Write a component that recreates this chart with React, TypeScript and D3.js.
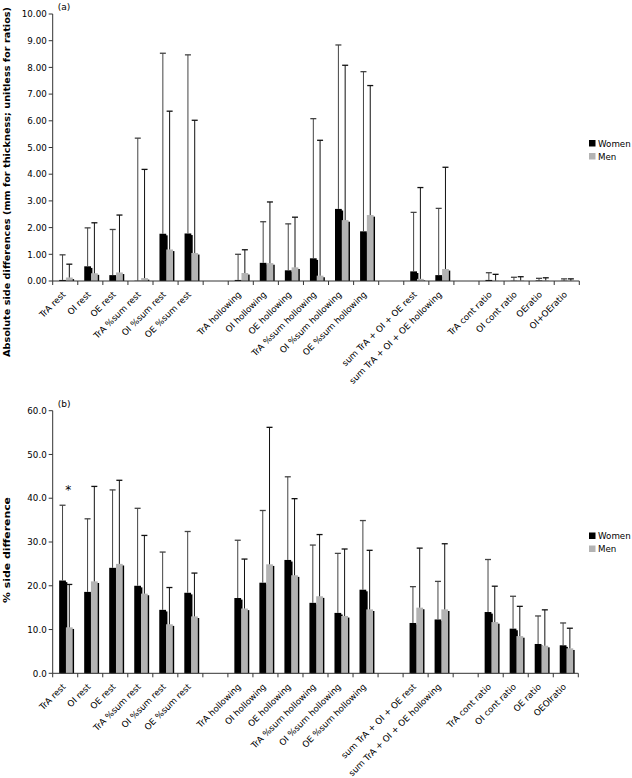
import React from 'react';
import * as d3 from 'd3';

const topCategories = [
  'TrA rest', 'OI rest', 'OE rest', 'TrA %sum rest', 'OI %sum rest', 'OE %sum rest', '',
  'TrA hollowing', 'OI hollowing', 'OE hollowing', 'TrA %sum hollowing', 'OI %sum hollowing', 'OE %sum hollowing', '',
  'sum TrA + OI + OE rest', 'sum TrA + OI + OE hollowing', '',
  'TrA cont ratio', 'OI cont ratio', 'OEratio', 'OI+OEratio',
];
const bottomCategories = [
  'TrA rest', 'OI rest', 'OE rest', 'TrA %sum rest', 'OI %sum rest', 'OE %sum rest', '',
  'TrA hollowing', 'OI hollowing', 'OE hollowing', 'TrA %sum hollowing', 'OI %sum hollowing', 'OE %sum hollowing', '',
  'sum TrA + OI + OE rest', 'sum TrA + OI + OE hollowing', '',
  'TrA cont ratio', 'OI cont ratio', 'OE ratio', 'OEOIratio',
];

const series = ['Women', 'Men'];

// (a) absolute side differences: mean and mean+SD
const topWomen = [0.04, 0.55, 0.22, 0.01, 1.77, 1.78, null, 0.04, 0.68, 0.40, 0.85, 2.70, 1.86, null, 0.36, 0.22, null, 0.04, 0.01, 0.02, 0.01];
const topWomenUpper = [0.98, 1.99, 1.93, 5.35, 8.53, 8.47, null, 1.00, 2.22, 2.14, 6.08, 8.84, 7.84, null, 2.57, 2.72, null, 0.31, 0.14, 0.10, 0.08];
const topMen = [0.13, 0.29, 0.32, 0.11, 1.18, 1.05, null, 0.30, 0.67, 0.51, 0.20, 2.28, 2.47, null, 0.08, 0.45, null, 0.01, 0.02, 0.02, 0.01];
const topMenUpper = [0.63, 2.18, 2.47, 4.18, 6.36, 6.02, null, 1.17, 2.96, 2.39, 5.27, 8.08, 7.32, null, 3.50, 4.26, null, 0.25, 0.16, 0.12, 0.08];
const topTicks = [0, 1, 2, 3, 4, 5, 6, 7, 8, 9, 10];

// (b) % side difference: mean and mean+SD
const botWomen = [21.2, 18.6, 24.1, 20.0, 14.5, 18.4, null, 17.2, 20.7, 25.9, 16.1, 13.8, 19.1, null, 11.5, 12.3, null, 14.0, 10.2, 6.7, 6.4];
const botWomenUpper = [38.4, 35.3, 41.9, 37.7, 27.7, 32.4, null, 30.4, 37.2, 44.9, 29.3, 27.4, 34.9, null, 19.8, 21.0, null, 26.0, 17.6, 13.1, 11.5];
const botMen = [10.5, 21.0, 25.0, 18.2, 11.2, 13.0, null, 14.8, 24.9, 22.4, 17.6, 13.1, 14.6, null, 15.0, 14.6, null, 11.7, 8.5, 6.3, 5.7];
const botMenUpper = [20.3, 42.7, 44.1, 31.5, 19.6, 22.9, null, 26.1, 56.2, 39.9, 31.7, 28.4, 28.1, null, 28.6, 29.6, null, 19.9, 15.3, 14.5, 10.3];
const botTicks = [0, 10, 20, 30, 40, 50, 60];

const FONT = '"DejaVu Sans", Verdana, sans-serif';
const COLORS = ['#000000', '#b3b3b3'];
const ERR_COLORS = ['#444444', '#111111'];

type PanelProps = {
  cats: string[];
  women: (number | null)[];
  womenUpper: (number | null)[];
  men: (number | null)[];
  menUpper: (number | null)[];
  ticks: number[];
  fmt: (n: number) => string;
  top: number;
  bottom: number;
  left: number;
  right: number;
  tag: string;
  yLabel: string;
  yLabelCenter: number;
  yLabelLen: number;
  legendY: number;
  star?: boolean;
};

function Panel(p: PanelProps) {
  const idx = d3.range(p.cats.length);
  const x = d3.scaleBand<number>().domain(idx).range([p.left, p.right]).padding(0);
  const yMax = p.ticks[p.ticks.length - 1];
  const y = d3.scaleLinear().domain([0, yMax]).range([p.bottom, p.top]);
  const bw = x.bandwidth() * 0.27;
  const vals = [p.women, p.men];
  const ups = [p.womenUpper, p.menUpper];
  const barX = (i: number, s: number) => {
    const cx = x(i)! + x.bandwidth() / 2;
    return s === 0 ? cx - bw + 0.7 : cx + 0.7;
  };

  return (
    <g>
      {/* bars with shadow */}
      {idx.map((i) =>
        vals.map((arr, s) => {
          const v = arr[i];
          if (v == null) return null;
          const xx = barX(i, s);
          const yt = y(v);
          const h = p.bottom - yt;
          return (
            <g key={`b${i}-${s}`}>
              <rect x={xx + 1.4} y={yt + 1.6} width={bw} height={Math.max(0, h - 1.6)} fill="#000" />
              <rect x={xx} y={yt} width={bw} height={h} fill={COLORS[s]} />
            </g>
          );
        })
      )}
      {/* error bars (upper only) */}
      {idx.map((i) =>
        vals.map((arr, s) => {
          const v = arr[i];
          const u = ups[s][i];
          if (v == null || u == null) return null;
          const xx = barX(i, s) + bw / 2;
          return (
            <g key={`e${i}-${s}`} stroke={ERR_COLORS[s]} strokeWidth={1}>
              <line x1={xx} x2={xx} y1={y(v)} y2={y(u)} />
              <line x1={xx - 3} x2={xx + 3} y1={y(u)} y2={y(u)} strokeWidth={1.3} />
            </g>
          );
        })
      )}
      {/* axes */}
      <line x1={p.left} x2={p.left} y1={p.top} y2={p.bottom} stroke="#333" />
      <line x1={p.left} x2={p.right} y1={p.bottom} y2={p.bottom} stroke="#333" />
      {p.ticks.map((t) => (
        <g key={`yt${t}`}>
          <line x1={p.left - 4} x2={p.left} y1={y(t)} y2={y(t)} stroke="#333" />
          <text x={p.left - 6} y={y(t) + 3.2} textAnchor="end" fontSize={8.7} fontFamily={FONT} fill="#000">
            {p.fmt(t)}
          </text>
        </g>
      ))}
      {d3.range(p.cats.length + 1).map((i) => {
        const xx = i < p.cats.length ? x(i)! : p.right;
        return <line key={`xt${i}`} x1={xx} x2={xx} y1={p.bottom} y2={p.bottom + 4} stroke="#333" />;
      })}
      {idx.map((i) => {
        const c = p.cats[i];
        if (!c) return null;
        const cx = x(i)! + x.bandwidth() / 2;
        const ax = cx + 1;
        const ay = p.bottom + 14;
        return (
          <text key={`xl${i}`} x={ax} y={ay} transform={`rotate(-45 ${ax} ${ay})`} textAnchor="end"
            fontSize={8.7} fontFamily={FONT} fill="#000">
            {c}
          </text>
        );
      })}
      {/* panel tag */}
      <text x={p.left + 5} y={p.top - 4} fontSize={9} fontFamily={FONT} fill="#000">{p.tag}</text>
      {p.star && (
        <text x={x(0)! + x.bandwidth() / 2 + 3} y={y(p.womenUpper[0]!) - 11} textAnchor="middle"
          fontSize={12} fontFamily={FONT} fill="#000">*</text>
      )}
      {/* y label */}
      <text
        x={0}
        y={0}
        transform={`translate(10 ${p.yLabelCenter}) rotate(-90)`}
        textAnchor="middle"
        fontSize={9}
        fontWeight="bold"
        fontFamily={FONT}
        textLength={p.yLabelLen}
        lengthAdjust="spacingAndGlyphs"
        fill="#000"
      >
        {p.yLabel}
      </text>
      {/* legend */}
      {series.map((s, k) => (
        <g key={`lg${s}`}>
          <rect x={589} y={p.legendY + k * 13} width={6.5} height={6.5} fill={COLORS[k]} />
          <text x={598} y={p.legendY + k * 13 + 6.5} fontSize={8.7} fontFamily={FONT} fill="#000">{s}</text>
        </g>
      ))}
    </g>
  );
}

export default function App() {
  return (
    <svg width={632} height={778} style={{ position: 'absolute', left: 0, top: 0, background: '#fff' }}>
      <rect x={0} y={0} width={632} height={778} fill="#fff" />
      <Panel
        cats={topCategories}
        women={topWomen}
        womenUpper={topWomenUpper}
        men={topMen}
        menUpper={topMenUpper}
        ticks={topTicks}
        fmt={d3.format('.2f')}
        top={14}
        bottom={281}
        left={52.7}
        right={579.3}
        tag="(a)"
        yLabel="Absolute side differences (mm for thickness; unitless for ratios)"
        yLabelCenter={182}
        yLabelLen={350}
        legendY={140}
      />
      <Panel
        cats={bottomCategories}
        women={botWomen}
        womenUpper={botWomenUpper}
        men={botMen}
        menUpper={botMenUpper}
        ticks={botTicks}
        fmt={d3.format('.1f')}
        top={410.7}
        bottom={673.3}
        left={52.7}
        right={578.3}
        tag="(b)"
        yLabel="% side difference"
        yLabelCenter={550}
        yLabelLen={106}
        legendY={532.5}
        star
      />
    </svg>
  );
}
